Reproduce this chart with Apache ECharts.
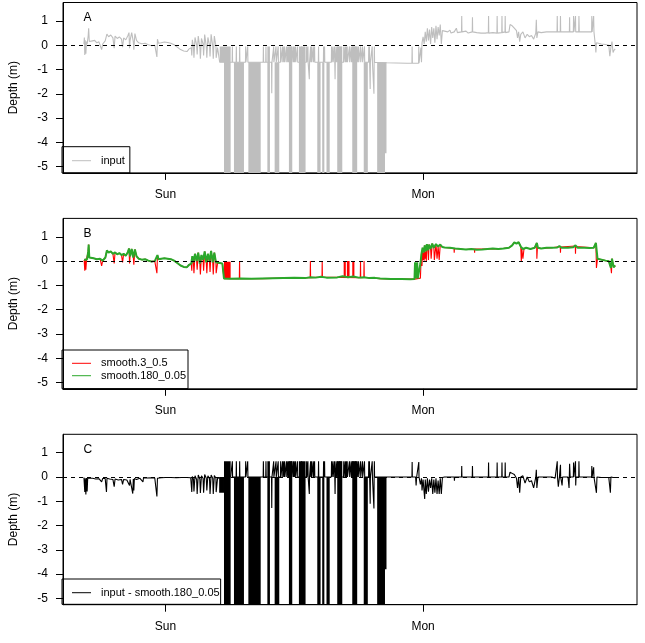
<!DOCTYPE html>
<html><head><meta charset="utf-8">
<script src="https://cdn.jsdelivr.net/npm/echarts@6/dist/echarts.min.js"></script>
<style>html,body{margin:0;padding:0;background:#fff}#chart{width:645px;height:643px}</style>
</head><body><div id="chart"></div>
<script>
// ---- tick labels / categories ----
const tickHours = [0, 24];
const tickLabels = ['Sun', 'Mon'];
const depthTicks = [-5, -4, -3, -2, -1, 0, 1];
const panelLabels = ['A', 'B', 'C'];
const seriesNames = ['input', 'smooth.3_0.5', 'smooth.180_0.05', 'input - smooth.180_0.05'];

// ---- data: [hours from Sunday 00:00, depth m] ----
const inputDepth = [
[-7.60,0.05],[-7.56,0.32],[-7.52,-0.40],[-7.48,0.20],[-7.42,-0.35],[-7.36,0.15],[-7.30,0.05],[-7.20,0.40],[-7.16,0.70],[-7.10,0.15],[-6.95,0.10],[-6.80,0.18],[-6.60,0.20],[-6.40,0.10],[-6.20,0.14],[-6.05,0.08],[-5.95,-0.18],[-5.85,0.05],[-5.62,0.18],[-5.46,0.46],[-5.30,0.35],[-5.10,0.42],[-4.90,0.30],[-4.78,-0.12],[-4.70,0.38],[-4.50,0.28],[-4.30,0.34],[-4.10,0.25],[-4.00,-0.08],[-3.90,0.30],[-3.70,0.22],[-3.50,0.40],[-3.40,0.52],[-3.35,-0.12],[-3.30,0.20],[-3.15,0.52],[-3.00,0.15],[-2.95,-0.18],[-2.85,0.48],[-2.70,0.20],[-2.50,0.10],[-2.20,0.06],[-1.90,0.08],[-1.60,0.02],[-1.30,-0.02],[-1.00,0.00],[-0.85,0.05],[-0.80,-0.48],[-0.75,0.25],[-0.65,0.08],[-0.40,0.10],[-0.10,0.13],[0.20,0.11],[0.50,0.08],[0.80,0.02],[1.10,-0.08],[1.40,-0.18],[1.70,-0.24],[2.00,-0.26],[2.20,-0.15],[2.40,-0.10],[2.45,-0.42],[2.50,0.22],[2.60,-0.05],[2.65,-0.52],[2.75,0.32],[2.90,0.00],[2.95,-0.38],[3.05,0.38],[3.20,-0.10],[3.25,-0.56],[3.35,0.28],[3.50,0.05],[3.55,-0.42],[3.65,0.44],[3.80,-0.05],[3.85,-0.52],[3.95,0.32],[4.10,0.00],[4.15,-0.46],[4.25,0.45],[4.40,-0.05],[4.45,-0.56],[4.55,0.38],[4.70,-0.05],[4.72,-0.52],[4.85,-0.10],[4.98,-0.12],
[5.05,-0.70],[6.21,-0.70],[6.23,-0.05],[6.25,-0.70],[6.58,-0.70],[6.60,-0.05],[6.62,-0.70],[6.89,-0.70],[6.91,-0.05],[6.93,-0.70],[7.45,-0.70],[7.47,-0.05],[7.49,-0.70],[7.64,-0.70],[7.66,-0.05],[7.68,-0.70],[9.10,-0.70],[9.12,-0.05],[9.14,-0.70],[9.34,-0.70],[9.36,-0.05],[9.38,-0.70],[9.88,-0.70],[9.90,-1.98],[9.92,-0.70],[10.06,-0.70],[10.08,-0.05],[10.10,-0.70],[10.28,-0.70],[10.30,-0.05],[10.32,-0.70],[10.48,-0.70],[10.50,-0.05],[10.52,-0.70],[10.71,-0.70],[10.73,-0.05],[10.75,-0.70],[10.89,-0.70],[10.91,-0.05],[10.93,-0.70],[11.01,-0.70],[11.03,-0.05],[11.05,-0.70],[11.08,-0.70],[11.10,-0.05],[11.12,-0.70],[11.26,-0.70],[11.28,-0.05],[11.30,-0.70],[11.38,-0.70],[11.40,-0.05],[11.42,-0.70],[11.45,-0.70],[11.47,-0.05],[11.49,-0.70],[11.58,-0.70],[11.60,-0.05],[11.62,-0.70],[11.73,-0.70],[11.75,-0.05],[11.77,-0.70],[11.88,-0.70],[11.90,-0.05],[11.92,-0.70],[11.98,-0.70],[12.00,-0.05],[12.02,-0.70],[12.10,-0.70],[12.12,-0.05],[12.14,-0.70],[12.28,-0.70],[12.30,-0.05],[12.32,-0.70],[12.66,-0.70],[12.68,-0.05],[12.70,-0.70],[13.13,-0.70],[13.15,-0.05],[13.17,-0.70],[13.25,-0.70],[13.27,-0.05],[13.29,-0.70],[13.38,-0.70],[13.40,-1.40],[13.42,-0.70],[13.50,-0.70],[13.52,-0.05],[13.54,-0.70],[13.59,-0.70],[13.61,-0.05],[13.63,-0.70],[13.75,-0.70],[13.77,-0.05],[13.79,-0.70],[13.87,-0.70],[13.89,-0.05],[13.91,-0.70],[14.24,-0.70],[14.26,-0.05],[14.28,-0.70],[14.71,-0.70],[14.73,-0.05],[14.75,-0.70],[14.80,-0.70],[14.82,-0.05],[14.84,-0.70],[15.45,-0.70],[15.47,-0.05],[15.49,-0.70],[15.58,-0.70],[15.60,-0.05],[15.62,-0.70],[15.73,-0.70],[15.75,-0.05],[15.77,-0.70],[15.80,-1.40],[15.82,-0.70],[15.88,-0.70],[15.90,-0.05],[15.92,-0.70],[16.01,-0.70],[16.03,-0.05],[16.05,-0.70],[16.18,-0.70],[16.20,-0.05],[16.22,-0.70],[16.33,-0.70],[16.35,-0.05],[16.37,-0.70],[16.59,-0.70],[16.61,-0.05],[16.63,-0.70],[16.73,-0.70],[16.75,-0.05],[16.77,-0.70],[16.84,-0.70],[16.86,-0.05],[16.88,-0.70],[16.91,-0.70],[16.93,-0.05],[16.95,-0.70],[17.12,-0.70],[17.14,-0.05],[17.16,-0.70],[17.28,-0.70],[17.30,-0.05],[17.32,-0.70],[17.40,-0.70],[17.42,-0.05],[17.44,-0.70],[17.53,-0.70],[17.55,-0.05],[17.57,-0.70],[17.68,-0.70],[17.70,-0.05],[17.72,-0.70],[17.83,-0.70],[17.85,-0.05],[17.87,-0.70],[17.96,-0.70],[17.98,-0.05],[18.00,-0.70],[18.15,-0.70],[18.17,-0.05],[18.19,-0.70],[18.33,-0.70],[18.35,-0.05],[18.37,-0.70],[18.52,-0.70],[18.54,-0.05],[18.56,-0.70],[18.92,-0.70],[18.94,-0.05],[18.96,-0.70],[18.98,-0.70],[19.00,-0.05],[19.02,-0.70],[19.07,-1.80],[19.09,-0.70],[19.24,-0.70],[19.26,-0.05],[19.28,-0.70],[19.40,-0.70],[19.42,-2.00],[19.44,-0.70],[19.46,-0.05],[19.48,-0.70],[20.60,-0.72],[21.50,-0.73],[22.50,-0.74],[22.96,-0.74],[22.98,-0.05],[23.00,-0.74],[23.58,-0.74],[23.60,-0.05],[23.62,-0.74],[23.72,-0.72],
[23.80,-0.10],[23.85,-0.70],[23.90,0.10],[24.00,0.35],[24.10,0.05],[24.20,0.55],[24.30,0.15],[24.40,0.70],[24.50,0.20],[24.60,0.65],[24.70,0.05],[24.80,0.75],[24.90,0.30],[25.00,0.70],[25.10,0.10],[25.20,0.80],[25.30,0.25],[25.40,0.75],[25.50,0.40],[25.60,0.85],[25.70,0.05],[25.80,0.60],
[26.00,0.58],[26.30,0.55],[26.50,0.62],[26.60,0.50],[26.90,0.55],[27.10,0.70],[27.20,0.52],[27.58,0.55],[27.60,1.20],[27.62,0.55],[28.00,0.58],[28.20,0.50],[28.58,0.55],[28.60,1.15],[28.62,0.55],[29.00,0.52],[29.40,0.50],[29.80,0.50],[30.08,0.52],[30.10,1.20],[30.12,0.50],[30.50,0.52],[30.88,0.50],[30.90,1.20],[30.92,0.50],[31.33,0.52],[31.35,1.20],[31.37,0.52],[31.63,0.55],[31.65,1.20],[31.67,0.52],[32.00,0.55],[32.10,0.85],[32.30,0.80],[32.50,0.70],[32.70,0.60],[32.80,0.30],[32.90,0.55],[33.00,0.15],[33.10,0.45],[33.30,0.55],[33.50,0.30],[33.70,0.45],[33.90,0.35],[34.10,0.40],[34.30,0.25],[34.50,0.50],[34.55,1.05],[34.60,0.30],[34.70,0.55],[35.00,0.52],[35.50,0.55],[36.00,0.55],[36.48,0.55],[36.50,1.20],[36.52,0.55],[36.78,0.55],[36.80,1.20],[36.82,0.55],[37.20,0.55],[37.63,0.55],[37.65,1.15],[37.67,0.55],[38.00,0.55],[38.02,1.20],[38.05,0.55],[38.18,0.55],[38.20,1.20],[38.22,0.55],[38.50,0.55],[38.52,1.20],[38.55,0.55],[39.00,0.55],[39.50,0.55],[39.70,0.55],[39.72,1.20],[39.75,0.55],[39.87,0.55],[39.89,1.20],[39.92,0.55],[40.00,0.50],[40.05,0.00],[40.10,-0.30],[40.15,0.10],[40.30,0.08],[40.60,0.05],[41.00,0.03],[41.30,0.00],[41.40,-0.45],[41.50,-0.10],[41.60,0.15],[41.70,-0.30],[41.80,-0.20],[41.90,-0.15]
];
// dense bursts of spikes: [from h, to h, low depth, high depth]
const inputBursts = [
[5.05,5.45,-0.70,-0.05],[5.45,6.07,-6,-0.05],[6.38,7.31,-6,-0.70],[7.72,8.87,-6,-0.70],[9.49,9.73,-6,-0.05],[10.17,10.60,-6,-0.70],[11.50,11.81,-6,-0.05],[12.43,13.05,-6,-0.05],[14.14,14.45,-6,-0.70],[14.60,14.80,-6,-0.70],[15.00,15.30,-6,-0.70],[16.00,16.47,-6,-0.05],[17.40,17.86,-6,-0.05],[18.47,18.85,-6,-0.70],[19.72,20.45,-6,-0.70],[20.45,20.59,-4.45,-0.70]
];

const smooth3 = [
[-7.58,0.05],[-7.52,-0.40],[-7.48,0.10],[-7.42,-0.35],[-7.35,0.10],[-7.30,0.08],[-7.20,0.40],[-7.16,0.68],[-7.10,0.15],[-6.95,0.10],[-6.70,0.12],[-6.40,0.08],[-6.10,0.10],[-5.95,-0.20],[-5.85,0.02],[-5.60,0.15],[-5.46,0.44],[-5.30,0.35],[-5.10,0.40],[-4.90,0.30],[-4.78,-0.10],[-4.70,0.36],[-4.50,0.28],[-4.30,0.33],[-4.10,0.25],[-4.00,-0.05],[-3.90,0.30],[-3.70,0.22],[-3.50,0.38],[-3.40,0.52],[-3.35,-0.10],[-3.30,0.20],[-3.15,0.50],[-3.00,0.15],[-2.95,-0.15],[-2.85,0.48],[-2.70,0.20],[-2.50,0.10],[-2.20,0.06],[-1.90,0.08],[-1.60,0.02],[-1.30,-0.02],[-1.00,0.00],[-0.85,0.05],[-0.80,-0.50],[-0.75,0.25],[-0.65,0.08],[-0.40,0.10],[-0.10,0.12],[0.20,0.10],[0.50,0.08],[0.80,0.02],[1.10,-0.08],[1.40,-0.18],[1.70,-0.24],[2.00,-0.25],[2.20,-0.15],[2.40,-0.10],[2.45,-0.40],[2.50,0.20],[2.60,-0.05],[2.65,-0.50],[2.75,0.30],[2.90,0.00],[2.95,-0.35],[3.05,0.35],[3.20,-0.10],[3.25,-0.55],[3.35,0.25],[3.50,0.05],[3.55,-0.40],[3.65,0.40],[3.80,-0.05],[3.85,-0.50],[3.95,0.30],[4.10,0.00],[4.15,-0.45],[4.25,0.42],[4.40,-0.05],[4.45,-0.55],[4.55,0.35],[4.70,-0.05],[4.72,-0.50],[4.85,-0.08],[5.30,-0.10],[5.45,-0.72],
[6.88,-0.72],[6.90,0.00],[6.92,-0.72],[9.00,-0.72],[11.00,-0.70],[13.48,-0.68],[13.50,0.00],[13.52,-0.68],[14.58,-0.66],[14.60,0.00],[14.62,-0.66],[18.15,-0.68],[18.17,0.00],[18.19,-0.68],[18.48,-0.67],[18.50,0.00],[18.52,-0.67],[20.00,-0.72],[22.00,-0.74],[23.20,-0.74],
[23.75,-0.70],[23.80,-0.10],[23.85,0.30],[23.90,-0.20],[23.95,0.55],[24.00,0.05],[24.05,0.35],[24.10,0.02],[24.15,0.65],[24.20,0.10],[24.25,0.40],[24.30,0.00],[24.35,0.70],[24.45,0.45],[24.50,0.05],[24.55,0.68],[24.70,0.50],[24.75,0.10],[24.85,0.72],[25.00,0.55],[25.05,0.05],[25.20,0.70],[25.30,0.10],[25.40,0.60],[25.50,0.05],[25.60,0.68],[25.80,0.58],[26.00,0.56],
[26.88,0.52],[26.90,0.35],[26.92,0.52],[27.88,0.48],[27.90,0.40],[27.92,0.48],[28.78,0.50],[28.80,0.35],[28.82,0.50],[30.00,0.50],[31.00,0.50],[32.00,0.55],[32.30,0.65],[32.50,0.77],[32.70,0.72],[32.90,0.78],[33.10,0.60],[33.15,0.00],[33.20,0.50],[33.30,0.10],[33.40,0.50],[33.60,0.55],[34.00,0.50],[34.40,0.55],[34.58,0.75],[34.60,0.10],[34.65,0.55],[35.00,0.52],[36.00,0.55],[36.78,0.60],[36.80,0.35],[36.82,0.58],[38.18,0.62],[38.20,0.30],[38.22,0.60],[39.90,0.55],[40.10,0.75],[40.15,-0.28],[40.25,0.10],[40.40,0.05],[41.00,0.02],[41.30,0.00],[41.50,-0.28],[41.55,-0.50],[41.60,0.10],[41.75,-0.25],[41.90,-0.18]
];
const smooth3Bursts = [
[5.45,6.07,-0.73,-0.03],[16.60,16.80,-0.70,0.00],[16.90,17.15,-0.70,0.00],[17.40,17.60,-0.70,0.00]
];

const smooth180 = [
[-7.58,0.05],[-7.45,0.12],[-7.30,0.08],[-7.20,0.40],[-7.16,0.68],[-7.10,0.15],[-6.95,0.10],[-6.70,0.12],[-6.40,0.08],[-6.10,0.10],[-5.85,0.02],[-5.60,0.15],[-5.46,0.44],[-5.30,0.35],[-5.10,0.40],[-4.90,0.30],[-4.70,0.36],[-4.50,0.28],[-4.30,0.33],[-4.10,0.25],[-3.90,0.30],[-3.70,0.22],[-3.50,0.38],[-3.40,0.52],[-3.30,0.20],[-3.15,0.50],[-3.00,0.15],[-2.85,0.48],[-2.70,0.20],[-2.50,0.10],[-2.20,0.06],[-1.90,0.08],[-1.60,0.02],[-1.30,-0.02],[-1.00,0.00],[-0.85,0.05],[-0.75,0.25],[-0.65,0.08],[-0.40,0.10],[-0.10,0.12],[0.20,0.10],[0.50,0.08],[0.80,0.02],[1.10,-0.08],[1.40,-0.18],[1.70,-0.24],[2.00,-0.25],[2.20,-0.15],[2.40,-0.10],[2.50,0.20],[2.60,-0.05],[2.75,0.30],[2.90,0.00],[3.05,0.35],[3.20,-0.10],[3.35,0.25],[3.50,0.05],[3.65,0.40],[3.80,-0.05],[3.95,0.30],[4.10,0.00],[4.25,0.42],[4.40,-0.05],[4.55,0.35],[4.70,-0.05],[4.85,-0.08],[5.30,-0.10],[5.45,-0.72],
[6.00,-0.73],[7.00,-0.72],[8.00,-0.73],[9.00,-0.72],[10.00,-0.71],[11.00,-0.70],[12.00,-0.69],[13.00,-0.70],[13.50,-0.66],[14.00,-0.68],[14.50,-0.64],[15.00,-0.68],[16.00,-0.67],[16.50,-0.62],[17.00,-0.66],[17.50,-0.63],[18.00,-0.68],[18.50,-0.66],[19.00,-0.70],[19.50,-0.69],[20.00,-0.72],[20.50,-0.73],[21.00,-0.74],[22.00,-0.74],[22.80,-0.75],[23.20,-0.74],[23.25,-0.05],[23.30,-0.70],[23.45,-0.05],[23.50,-0.72],[23.60,-0.70],
[23.75,-0.10],[23.85,0.30],[23.95,0.55],[24.05,0.35],[24.15,0.65],[24.25,0.40],[24.35,0.70],[24.45,0.45],[24.55,0.68],[24.70,0.50],[24.85,0.72],[25.00,0.55],[25.20,0.70],[25.40,0.60],[25.60,0.68],[25.80,0.58],[26.00,0.56],
[26.50,0.55],[27.00,0.52],[27.50,0.50],[28.00,0.48],[28.50,0.50],[29.00,0.47],[29.50,0.48],[30.00,0.50],[30.50,0.52],[31.00,0.50],[31.50,0.52],[32.00,0.55],[32.30,0.65],[32.50,0.77],[32.70,0.72],[32.90,0.78],[33.10,0.60],[33.30,0.50],[33.60,0.55],[34.00,0.50],[34.40,0.55],[34.60,0.75],[34.70,0.55],[35.00,0.52],[35.50,0.55],[36.00,0.55],[36.50,0.56],[36.70,0.62],[36.90,0.55],[37.50,0.55],[38.00,0.57],[38.20,0.65],[38.40,0.55],[39.00,0.55],[39.50,0.54],[39.90,0.55],[40.10,0.75],[40.25,0.10],[40.40,0.05],[41.00,0.02],[41.30,0.00],[41.50,-0.28],[41.60,0.10],[41.75,-0.25],[41.90,-0.18]
];

const residual = [
[-7.60,-0.02],[-7.56,-0.05],[-7.52,-0.62],[-7.48,-0.05],[-7.42,-0.72],[-7.36,-0.04],[-7.30,-0.60],[-7.25,-0.05],[-7.10,-0.06],[-6.80,-0.05],[-6.50,-0.08],[-6.20,-0.07],[-5.95,-0.20],[-5.85,-0.06],[-5.62,-0.06],[-5.50,-0.62],[-5.45,-0.05],[-5.20,-0.08],[-4.90,-0.10],[-4.78,-0.40],[-4.70,-0.08],[-4.40,-0.12],[-4.10,-0.10],[-4.00,-0.30],[-3.90,-0.10],[-3.60,-0.12],[-3.35,-0.35],[-3.30,-0.10],[-3.05,-0.68],[-3.00,-0.08],[-2.95,-0.55],[-2.90,-0.06],[-2.70,-0.10],[-2.40,-0.05],[-2.10,-0.20],[-2.05,-0.04],[-1.70,-0.04],[-1.30,-0.03],[-1.00,-0.04],[-0.80,-0.80],[-0.75,-0.05],[-0.40,-0.03],[0.00,-0.02],[0.50,-0.02],[1.00,-0.03],[1.50,-0.02],[2.00,-0.02],[2.35,-0.03],[2.45,-0.62],[2.50,0.02],[2.60,-0.08],[2.65,-0.60],[2.75,0.05],[2.90,-0.10],[2.95,-0.70],[3.05,0.08],[3.20,-0.08],[3.25,-0.66],[3.35,0.05],[3.50,-0.05],[3.55,-0.65],[3.65,0.10],[3.80,-0.05],[3.85,-0.55],[3.95,0.05],[4.10,-0.06],[4.15,-0.70],[4.25,0.08],[4.40,-0.05],[4.45,-0.70],[4.55,0.06],[4.70,-0.05],[4.72,-0.62],[4.85,-0.05],[4.98,-0.04],
[6.07,0.00],[6.21,0.00],[6.23,0.65],[6.25,0.00],[6.58,0.00],[6.60,0.65],[6.62,0.00],[6.89,0.00],[6.91,0.65],[6.93,0.00],[7.45,0.00],[7.47,0.65],[7.49,0.00],[7.64,0.00],[7.66,0.65],[7.68,0.00],[9.10,0.00],[9.12,0.65],[9.14,0.00],[9.34,0.00],[9.36,0.65],[9.38,0.00],[9.88,0.00],[9.90,-1.28],[9.92,0.00],[10.06,0.00],[10.08,0.65],[10.10,0.00],[10.28,0.00],[10.30,0.65],[10.32,0.00],[10.48,0.00],[10.50,0.65],[10.52,0.00],[10.71,0.00],[10.73,0.65],[10.75,0.00],[10.89,0.00],[10.91,0.65],[10.93,0.00],[11.01,0.00],[11.03,0.65],[11.05,0.00],[11.08,0.00],[11.10,0.65],[11.12,0.00],[11.26,0.00],[11.28,0.65],[11.30,0.00],[11.38,0.00],[11.40,0.65],[11.42,0.00],[11.45,0.00],[11.47,0.65],[11.49,0.00],[11.58,0.00],[11.60,0.65],[11.62,0.00],[11.73,0.00],[11.75,0.65],[11.77,0.00],[11.88,0.00],[11.90,0.65],[11.92,0.00],[11.98,0.00],[12.00,0.65],[12.02,0.00],[12.10,0.00],[12.12,0.65],[12.14,0.00],[12.28,0.00],[12.30,0.65],[12.32,0.00],[12.66,0.00],[12.68,0.65],[12.70,0.00],[13.13,0.00],[13.15,0.65],[13.17,0.00],[13.25,0.00],[13.27,0.65],[13.29,0.00],[13.38,0.00],[13.40,-0.70],[13.42,0.00],[13.50,0.00],[13.52,0.65],[13.54,0.00],[13.59,0.00],[13.61,0.65],[13.63,0.00],[13.75,0.00],[13.77,0.65],[13.79,0.00],[13.87,0.00],[13.89,0.65],[13.91,0.00],[14.24,0.00],[14.26,0.65],[14.28,0.00],[14.71,0.00],[14.73,0.65],[14.75,0.00],[14.80,0.00],[14.82,0.65],[14.84,0.00],[15.45,0.00],[15.47,0.65],[15.49,0.00],[15.58,0.00],[15.60,0.65],[15.62,0.00],[15.73,0.00],[15.75,0.65],[15.77,0.00],[15.80,-0.70],[15.82,0.00],[15.88,0.00],[15.90,0.65],[15.92,0.00],[16.01,0.00],[16.03,0.65],[16.05,0.00],[16.18,0.00],[16.20,0.65],[16.22,0.00],[16.33,0.00],[16.35,0.65],[16.37,0.00],[16.59,0.00],[16.61,0.65],[16.63,0.00],[16.73,0.00],[16.75,0.65],[16.77,0.00],[16.84,0.00],[16.86,0.65],[16.88,0.00],[16.91,0.00],[16.93,0.65],[16.95,0.00],[17.12,0.00],[17.14,0.65],[17.16,0.00],[17.28,0.00],[17.30,0.65],[17.32,0.00],[17.40,0.00],[17.42,0.65],[17.44,0.00],[17.53,0.00],[17.55,0.65],[17.57,0.00],[17.68,0.00],[17.70,0.65],[17.72,0.00],[17.83,0.00],[17.85,0.65],[17.87,0.00],[17.96,0.00],[17.98,0.65],[18.00,0.00],[18.15,0.00],[18.17,0.65],[18.19,0.00],[18.33,0.00],[18.35,0.65],[18.37,0.00],[18.52,0.00],[18.54,0.65],[18.56,0.00],[18.92,0.00],[18.94,0.65],[18.96,0.00],[18.98,0.00],[19.00,0.65],[19.02,0.00],[19.07,-1.10],[19.09,0.00],[19.24,0.00],[19.26,0.65],[19.28,0.00],[19.40,0.00],[19.42,-1.30],[19.44,0.00],[19.46,0.65],[19.48,0.00],[20.60,0.00],[22.96,0.00],[22.98,0.62],[23.00,0.00],[23.30,0.00],[23.35,-0.35],[23.40,0.00],[23.58,0.00],[23.60,0.62],[23.62,0.00],
[23.75,-0.30],[23.85,-0.05],[23.90,-0.55],[24.00,-0.10],[24.10,-0.65],[24.15,-0.90],[24.20,-0.10],[24.30,-0.70],[24.40,-0.05],[24.50,-0.60],[24.60,-0.10],[24.70,-0.45],[24.80,-0.05],[24.90,-0.70],[25.00,-0.10],[25.10,-0.65],[25.20,-0.05],[25.30,-0.70],[25.40,-0.15],[25.50,-0.70],[25.60,-0.05],[25.70,-0.70],[25.80,-0.02],[26.00,0.00],
[26.90,0.00],[26.92,-0.15],[26.94,0.00],[27.58,0.00],[27.60,0.45],[27.62,0.00],[28.58,0.00],[28.60,0.45],[28.62,0.00],[30.08,0.00],[30.10,0.60],[30.12,0.00],[30.88,0.00],[30.90,0.60],[30.92,0.00],[31.33,0.00],[31.35,0.60],[31.37,0.00],[31.63,0.00],[31.65,0.60],[31.67,0.00],[32.00,0.00],[32.10,0.20],[32.30,0.15],[32.50,0.10],[32.70,-0.05],[32.80,-0.45],[32.90,0.00],[33.00,-0.65],[33.10,0.00],[33.30,0.05],[33.50,-0.25],[33.70,0.00],[33.90,-0.20],[34.10,-0.15],[34.30,-0.45],[34.50,0.00],[34.55,0.30],[34.60,-0.45],[34.70,0.00],[36.00,0.00],[36.30,-0.05],[36.48,0.00],[36.50,0.65],[36.52,0.00],[36.60,-0.40],[36.70,0.00],[36.78,0.00],[36.80,0.50],[36.82,0.00],[36.95,-0.35],[37.00,0.00],[37.50,0.00],[37.60,-0.45],[37.65,0.55],[37.70,0.00],[38.00,0.00],[38.02,0.60],[38.05,0.00],[38.18,0.00],[38.20,0.65],[38.22,-0.35],[38.25,0.00],[38.50,0.00],[38.52,0.65],[38.55,0.00],[39.70,0.00],[39.72,0.45],[39.75,0.00],[39.87,0.00],[39.89,0.40],[39.92,0.00],[40.10,0.00],[40.15,-0.65],[40.20,0.00],[40.60,-0.02],[41.00,-0.02],[41.30,-0.02],[41.45,-0.65],[41.50,0.00],[41.70,-0.02],[41.90,-0.02]
];
const residualBursts = [
[5.00,5.45,-0.65,0.00],[5.45,6.07,-6,0.65],[6.38,7.31,-6,0.00],[7.72,8.87,-6,0.00],[9.49,9.73,-6,0.65],[10.17,10.60,-6,0.00],[11.50,11.81,-6,0.65],[12.43,13.05,-6,0.65],[14.14,14.45,-6,0.00],[14.60,14.80,-6,0.00],[15.00,15.30,-6,0.00],[16.00,16.47,-6,0.65],[17.40,17.86,-6,0.65],[18.47,18.85,-6,0.00],[19.72,20.45,-6,0.00],[20.45,20.59,-3.80,0.00]
];

// ---- layout ----
const FONT = '"Liberation Sans", Arial, Helvetica, sans-serif';
const gridTops = [2.5, 218.4, 434.3];
const gridH = 170.4;
const hourRange = [-9.55, 43.93];
const depthRange = [-5.26, 1.76];

function burstRender(color) {
  return function (params, api) {
    const p1 = api.coord([api.value(0), api.value(3)]);
    const p2 = api.coord([api.value(1), api.value(2)]);
    return {
      type: 'rect',
      shape: { x: p1[0], y: p1[1], width: Math.max(p2[0] - p1[0], 1), height: p2[1] - p1[1] },
      style: { fill: color }
    };
  };
}

const grids = gridTops.map(t => ({
  left: 62, right: 8, top: t, height: gridH, show: true,
  borderColor: '#000', borderWidth: 1, backgroundColor: 'transparent', containLabel: false
}));

const xAxes = gridTops.map((t, i) => ({
  type: 'value', gridIndex: i, min: hourRange[0], max: hourRange[1],
  axisLine: { show: true, onZero: false, lineStyle: { color: '#000', width: 1 } },
  axisTick: { show: true, customValues: tickHours, length: 7, lineStyle: { color: '#000', width: 1 } },
  axisLabel: { customValues: tickHours, margin: 15, fontSize: 12, fontFamily: FONT, color: '#000', lineHeight: 14,
    formatter: v => { const k = tickHours.indexOf(v); return k >= 0 ? tickLabels[k] : ''; } },
  splitLine: { show: false }
}));

const yAxes = gridTops.map((t, i) => ({
  type: 'value', gridIndex: i, min: depthRange[0], max: depthRange[1],
  name: 'Depth (m)', nameLocation: 'middle', nameGap: 43,
  nameTextStyle: { fontSize: 12, fontFamily: FONT, color: '#000', lineHeight: 12 },
  axisLine: { show: true, onZero: false, lineStyle: { color: '#000', width: 1 } },
  axisTick: { show: true, customValues: depthTicks, length: 7, lineStyle: { color: '#000', width: 1 } },
  axisLabel: { customValues: depthTicks, margin: 15, fontSize: 12, fontFamily: FONT, color: '#000' },
  splitLine: { show: false }
}));

function lineSeries(name, data, idx, color, width, z) {
  return { type: 'line', name: name, data: data, xAxisIndex: idx, yAxisIndex: idx,
    showSymbol: false, symbol: 'none', color: color, lineStyle: { color: color, width: width },
    clip: true, z: z, animation: false, silent: true };
}
function burstSeries(name, data, idx, color, z) {
  return { type: 'custom', name: name, data: data, xAxisIndex: idx, yAxisIndex: idx,
    encode: { x: [0, 1], y: [2, 3] }, renderItem: burstRender(color), clip: true, z: z,
    animation: false, silent: true };
}
function zeroSeries(idx) {
  return { type: 'line', name: 'zero' + idx, data: [], xAxisIndex: idx, yAxisIndex: idx, z: 10,
    markLine: { silent: true, symbol: 'none', label: { show: false }, animation: false,
      lineStyle: { color: '#000', type: [4, 4], width: 1 }, data: [{ yAxis: 0 }] } };
}

const GREY = '#bebebe', RED = '#ff0000', GREEN = '#2aa82a', BLACK = '#000000';

const series = [
  burstSeries('input bursts', inputBursts, 0, GREY, 2),
  lineSeries(seriesNames[0], inputDepth, 0, GREY, 1.1, 3),
  zeroSeries(0),
  burstSeries('smooth bursts', smooth3Bursts, 1, RED, 2),
  lineSeries(seriesNames[1], smooth3, 1, RED, 1.1, 3),
  lineSeries(seriesNames[2], smooth180, 1, GREEN, 2, 4),
  zeroSeries(1),
  burstSeries('residual bursts', residualBursts, 2, BLACK, 2),
  lineSeries(seriesNames[3], residual, 2, BLACK, 1.1, 3),
  zeroSeries(2)
];

const legendBase = {
  orient: 'vertical', left: 62, icon: 'rect', itemWidth: 19, itemHeight: 1,
  borderColor: '#000', borderWidth: 1, borderRadius: 0, selectedMode: false,
  textStyle: { fontSize: 11, fontFamily: FONT, color: '#000', lineHeight: 12, padding: [0, 0, 0, 5] }
};
const legends = [
  Object.assign({}, legendBase, { data: [seriesNames[0]], top: 146.7, padding: [8, 5, 6.3, 10] }),
  Object.assign({}, legendBase, { data: [seriesNames[1], seriesNames[2]], top: 350, itemGap: 0.4, padding: [7.3, 2, 7, 10] }),
  Object.assign({}, legendBase, { data: [seriesNames[3]], top: 579, padding: [7.7, 1, 5.6, 10] })
];

const titles = panelLabels.map((t, i) => ({
  text: t, left: 83.5, top: gridTops[i] + 9, padding: 0,
  textStyle: { fontSize: 12, fontWeight: 'normal', fontFamily: FONT, color: '#000', lineHeight: 12 }
}));

const chart = echarts.init(document.getElementById('chart'), null, { renderer: 'canvas' });
chart.setOption({
  backgroundColor: '#ffffff',
  animation: false,
  title: titles,
  legend: legends,
  grid: grids,
  xAxis: xAxes,
  yAxis: yAxes,
  series: series
});
</script></body></html>
